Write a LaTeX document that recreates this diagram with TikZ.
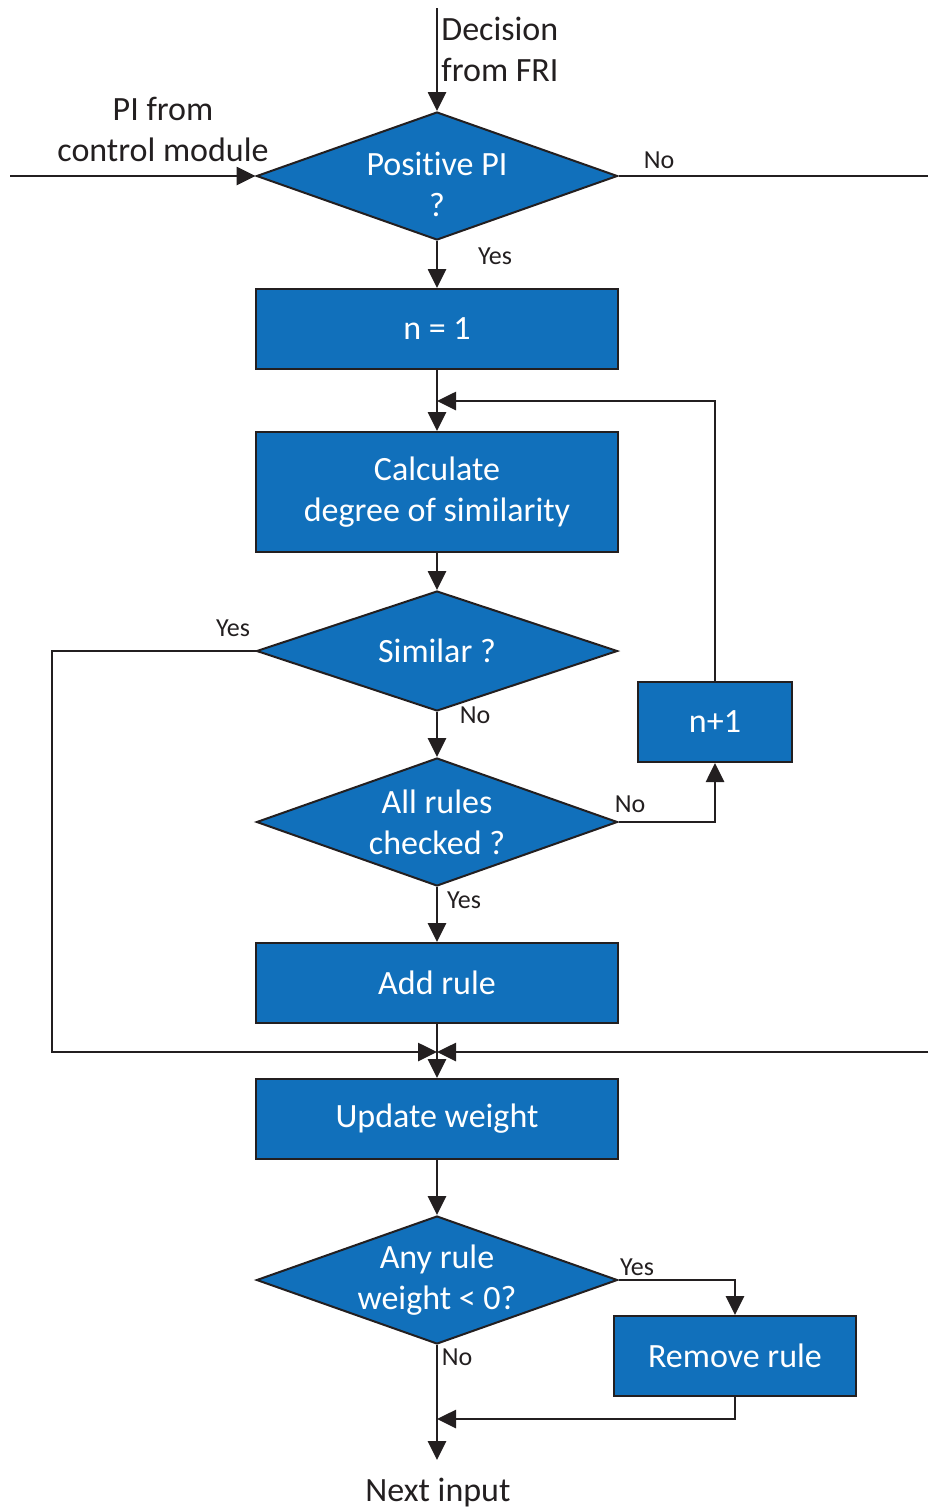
\documentclass[tikz,border=0pt]{standalone}
\usepackage{fontspec}
\setmainfont{Carlito}[RawFeature={-liga;-clig;-dlig;-calt}]
\usetikzlibrary{shapes.geometric,arrows.meta,calc}
\definecolor{boxblue}{RGB}{17,112,187}
\definecolor{ink}{RGB}{35,31,32}

\begin{document}
\begin{tikzpicture}[x=0.5pt,y=-0.5pt,
  every node/.style={font=\fontsize{17}{20.5}\selectfont},
  procbox/.style={rectangle, draw=ink, line width=1pt, fill=boxblue, text=white,
    minimum width=181pt, minimum height=40pt, inner sep=0pt, align=center},
  decision/.style={diamond, draw=ink, line width=1pt, fill=boxblue, text=white,
    minimum width=180.5pt, minimum height=64pt, aspect=2.82, inner sep=0pt, align=center},
  flow/.style={draw=ink, line width=1.35pt},
  arr/.style={flow, -{Triangle[length=9.5pt,width=9pt]}},
  tag/.style={text=ink, font=\fontsize{13}{15}\selectfont, inner sep=0pt},
  caption/.style={text=ink, align=center, inner sep=0pt}]

\useasboundingbox (0,0) rectangle (928,1510);

% main column
\node[decision] (pos) at (437,176) {};
\node[text=white, align=center, inner sep=0pt] (postxt) at (437,184) {Positive PI\\?};
\node[procbox] (n1) at (437,329) {n = 1};
\node[procbox, minimum height=60pt] (calc) at (437,492) {Calculate\\degree of similarity};
\node[decision, minimum height=60pt] (sim) at (437,651) {Similar ?};
\node[decision] (all) at (437,822) {All rules\\checked ?};
\node[procbox] (add) at (437,983) {Add rule};
\node[procbox] (upd) at (437,1119) {Update weight};
\node[decision] (any) at (437,1280) {Any rule\\weight < 0?};

% side boxes
\node[procbox, minimum width=77pt] (inc) at (715,722) {n+1};
\node[procbox, minimum width=121pt] (rem) at (735,1356) {Remove rule};

% inputs and outputs
\coordinate (fri) at (437,8);
\coordinate (pin) at (10,176);
\coordinate (noout) at (928,176);
\coordinate (loopin) at (437,401);
\coordinate (merge) at (437,1052);
\coordinate (leftrail) at (52,1052);
\coordinate (rightin) at (928,1052);
\coordinate (remback) at (437,1419);
\coordinate (nextin) at (437,1460);

\node[caption, anchor=west, align=left] (fritxt) at (441,49) {Decision\\from FRI};
\node[caption] (pitxt) at (163,129) {PI from\\control module};
\node[caption] (nexttxt) at (438,1493) {Next input};

% connectors
\draw[arr] (fri) -- (pos.north);
\draw[arr] (pin) -- (pos.west);
\draw[flow] (pos.east) -- (noout);
\draw[arr] (pos.south) -- (n1.north);
\draw[arr] (n1.south) -- (calc.north);
\draw[arr] (inc.north) |- (loopin);
\draw[arr] (calc.south) -- (sim.north);
\draw[arr] (sim.south) -- (all.north);
\draw[arr] (all.east) -| (inc.south);
\draw[arr] (all.south) -- (add.north);
\draw[arr] (sim.west) -| (leftrail) -- (merge);
\draw[arr] (rightin) -- (merge);
\draw[arr] (add.south) -- (upd.north);
\draw[arr] (upd.south) -- (any.north);
\draw[arr] (any.east) -| (rem.north);
\draw[arr] (rem.south) |- (remback);
\draw[arr] (any.south) -- (nextin);

% branch labels
\node[tag] (t1) at (659,160) {No};
\node[tag] (t2) at (495,256) {Yes};
\node[tag] (t3) at (233,628) {Yes};
\node[tag] (t4) at (475,715) {No};
\node[tag] (t5) at (630,804) {No};
\node[tag] (t6) at (464,900) {Yes};
\node[tag] (t7) at (637,1267) {Yes};
\node[tag] (t8) at (457,1357) {No};
\end{tikzpicture}
\end{document}
